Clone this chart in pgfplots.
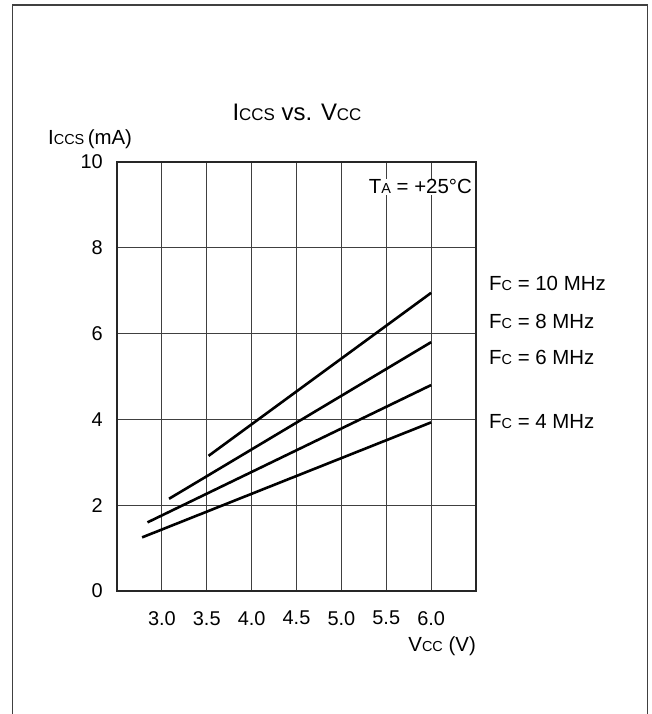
\documentclass[border=0pt]{standalone}
\usepackage{fontspec}
\setmainfont{Liberation Sans}
\usepackage{pgfplots}
\pgfplotsset{compat=1.18}
\newcommand{\sm}[1]{{\fontsize{14.5}{14.5}\selectfont #1}}
\newcommand{\smt}[1]{{\fontsize{17}{17}\selectfont #1}}
\newcommand{\nf}{\fontsize{20.5}{22}\selectfont}
\begin{document}
\begin{tikzpicture}
\path[use as bounding box] (0,0) rectangle (652bp,714bp);
\draw[line width=1.5bp, black!75] (12.5bp,0) -- (12.5bp,709bp) -- (647.5bp,709bp) -- (647.5bp,0);
\begin{axis}[
  at={(117bp,123bp)}, anchor=south west,
  width=359bp, height=429bp, scale only axis,
  xmin=2.5, xmax=6.5, ymin=0, ymax=10,
  xtick={3,3.5,4,4.5,5,5.5,6},
  xticklabels={3.0,3.5,4.0,4.5,5.0,5.5,6.0},
  ytick={0,2,4,6,8,10},
  yticklabels={0,2,4,6,8,10},
  /pgf/number format/assume math mode=true,
  major tick length=0pt,
  grid=major,
  major grid style={black!75, line width=0.8bp},
  axis line style={black!85, line width=1.4bp},
  tick label style={font=\fontsize{20}{20}\selectfont},
  xticklabel style={anchor=north, inner sep=0pt, yshift=-20bp},
  yticklabel style={anchor=east, inner sep=0pt, xshift=-14bp},
  clip=false,
]
\addplot[black, line width=2.6bp] coordinates {(2.78,1.25) (6.0,3.93)};
\addplot[black, line width=2.6bp] coordinates {(2.84,1.60) (6.0,4.80)};
\addplot[black, line width=2.6bp] coordinates {(3.08,2.15) (6.0,5.80)};
\addplot[black, line width=2.6bp] coordinates {(3.52,3.15) (6.0,6.95)};
\node[anchor=east, fill=white, inner sep=1pt, font=\nf] at (axis cs:6.467,9.42) {T\sm{A} = +25°C};
\node[anchor=west, inner sep=0pt, font=\nf] at (axis cs:6.645,7.18) {F\sm{C} = 10 MHz};
\node[anchor=west, inner sep=0pt, font=\nf] at (axis cs:6.645,6.29) {F\sm{C} = 8 MHz};
\node[anchor=west, inner sep=0pt, font=\nf] at (axis cs:6.645,5.45) {F\sm{C} = 6 MHz};
\node[anchor=west, inner sep=0pt, font=\nf] at (axis cs:6.645,3.94) {F\sm{C} = 4 MHz};
\end{axis}
\node[font=\fontsize{24}{24}\selectfont] at (297bp,602bp) {I\smt{CCS} vs. V\smt{CC}};
\node[anchor=west, inner sep=0pt, font=\nf] at (48bp,575bp) {I\sm{CCS}\,(mA)};
\node[anchor=east, inner sep=0pt, font=\nf] at (476bp,68bp) {V\sm{CC} (V)};
\end{tikzpicture}
\end{document}
